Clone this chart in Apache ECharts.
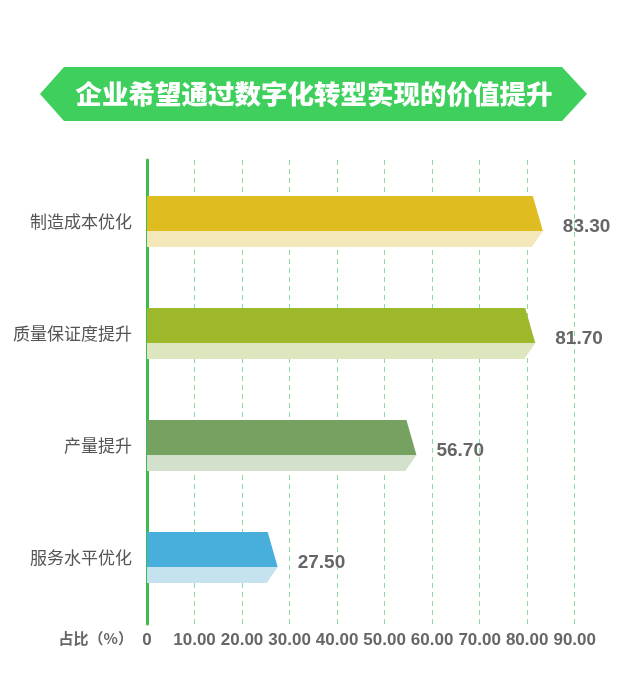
<!DOCTYPE html>
<html>
<head>
<meta charset="utf-8">
<script src="https://cdn.jsdelivr.net/npm/echarts@6/dist/echarts.min.js"></script>
<style>html,body{margin:0;padding:0;background:#fff;}#c{width:622px;height:700px;}</style>
</head>
<body>
<div id="c"></div>
<script>
var titleText = '企业希望通过数字化转型实现的价值提升';
var categories = ['制造成本优化', '质量保证度提升', '产量提升', '服务水平优化'];
var values = [83.3, 81.7, 56.7, 27.5];
var axisName = '占比（%）';
var xMin = 0, xMax = 90, xStep = 10;

var darkColors = ['#DFBD20', '#9DB82A', '#76A261', '#48AFDD'];
var lightColors = ['#F4E8BA', '#DDE6BE', '#D3E0CB', '#C5E3EE'];

var chart = echarts.init(document.getElementById('c'), null, {renderer: 'canvas'});
var numFont = '"Liberation Sans", Arial, sans-serif';
var cjkFont = '"Noto Sans CJK SC", sans-serif';

var seriesData = values.map(function (v, i) { return [v, i]; });

var option = {
  backgroundColor: '#fff',
  animation: false,
  graphic: [
    {
      type: 'polygon',
      shape: {points: [[40, 94], [64, 67], [562, 67], [587, 94], [562, 121], [64, 121]]},
      style: {fill: '#3ECF5C'},
      silent: true
    },
    {
      type: 'text',
      x: 314, y: 94,
      style: {
        text: titleText,
        fill: '#fff',
        font: '900 26.5px ' + cjkFont,
        textAlign: 'center',
        textVerticalAlign: 'middle'
      },
      silent: true
    },
    {
      type: 'text',
      x: 133, y: 638,
      style: {
        text: axisName,
        fill: '#666',
        font: 'bold 15px ' + cjkFont,
        textAlign: 'right',
        textVerticalAlign: 'middle'
      },
      silent: true
    }
  ],
  grid: [
    {left: 147, right: 47.3, top: 160, bottom: 76},
    {left: 147, right: 47.3, top: 165.5, bottom: 86.5}
  ],
  xAxis: [
    {
      gridIndex: 0, type: 'value', min: xMin, max: xMax, interval: xStep,
      axisLine: {show: false}, axisTick: {show: false},
      splitLine: {show: true, lineStyle: {color: '#8EDC9E', type: [5, 4], width: 1}},
      axisLabel: {
        margin: 8, color: '#666', fontSize: 17, fontWeight: 'bold', fontFamily: numFont,
        formatter: function (v) { return v === 0 ? '0' : v.toFixed(2); }
      }
    },
    {
      gridIndex: 1, type: 'value', min: xMin, max: xMax, show: false
    }
  ],
  yAxis: [
    {
      gridIndex: 0, type: 'value', min: 0, max: 1,
      axisLine: {show: true, onZero: false, lineStyle: {color: '#3DBB4E', width: 3}},
      axisTick: {show: false}, axisLabel: {show: false}, splitLine: {show: false}
    },
    {
      gridIndex: 1, type: 'category', data: categories, inverse: true,
      axisLine: {show: false}, axisTick: {show: false}, splitLine: {show: false},
      axisLabel: {margin: 15, color: '#555', fontSize: 17, fontFamily: cjkFont}
    }
  ],
  series: [
    {
      type: 'custom',
      xAxisIndex: 1, yAxisIndex: 1,
      encode: {x: 0, y: 1},
      data: seriesData,
      renderItem: function (params, api) {
        var v = api.value(0);
        var idx = api.value(1);
        var c = api.coord([v, idx]);
        var x0 = api.coord([0, idx])[0];
        var xt = c[0];
        var cy = c[1];
        var top = cy - 25.5, mid = top + 35, bot = top + 51;
        return {
          type: 'group',
          children: [
            {
              type: 'polygon',
              shape: {points: [[x0, mid], [xt, mid], [xt - 11, bot], [x0, bot]]},
              style: {fill: lightColors[idx]}
            },
            {
              type: 'polygon',
              shape: {points: [[x0, top], [xt - 10, top], [xt, mid], [x0, mid]]},
              style: {fill: darkColors[idx]}
            },
            {
              type: 'text',
              x: xt + 20, y: cy + 5,
              style: {
                text: v.toFixed(2),
                fill: '#666',
                font: 'bold 19px ' + numFont,
                textAlign: 'left',
                textVerticalAlign: 'middle'
              }
            }
          ]
        };
      }
    }
  ]
};
chart.setOption(option);
</script>
</body>
</html>
